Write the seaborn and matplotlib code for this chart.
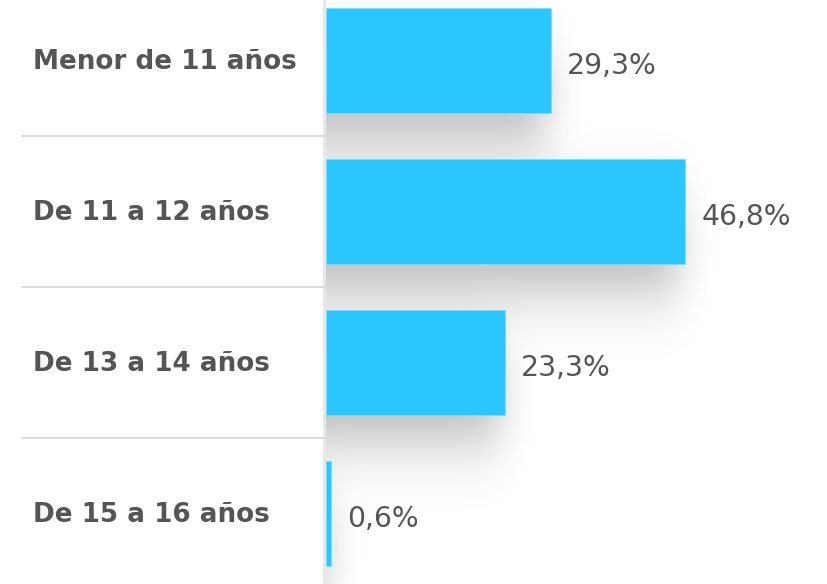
import numpy as np
import pandas as pd
import matplotlib.pyplot as plt
import matplotlib.transforms as mtransforms
from matplotlib.lines import Line2D
import seaborn as sns

## ============================================================= ##

categories = ['Menor de 11 años', 'De 11 a 12 años', 'De 13 a 14 años', 'De 15 a 16 años']
values = [29.3, 46.8, 23.3, 0.6]

BAR_COLOR = '#29c6ff'
TEXT_COLOR = '#555555'

## ============================================================= ##

sns.set_style('white')
plt.rcParams['font.family'] = ['DejaVu Sans']

df = pd.DataFrame({'category': categories, 'value': values})

fig = plt.figure(figsize=(8.28, 5.84), dpi=100)
ax = fig.add_axes([326/828, 0., 502/828, 1.])

bar_h = 0.69
xmax = 65.5
ylim = (3.467, -0.40)

## ---- soft drop shadow under the bars (blurred mask built from the data)
W, H = 502, 584
ux = W / xmax                      # pixels per x unit
uy = H / (ylim[0] - ylim[1])       # pixels per y unit
xpad = 12.
xs = np.linspace(-xpad, xmax, int(round((xmax + xpad) * ux)))
ys = np.linspace(ylim[1], ylim[0], H)
mask = np.zeros((len(ys), len(xs)))
for i, v in enumerate(values):
    top = i - bar_h/2 + 50/uy
    bot = i + bar_h/2 + 16/uy
    inside_y = (ys > top) & (ys < bot)
    inside_x = xs < v - 5/ux
    mask[np.ix_(inside_y, inside_x)] = 1.

def gauss(sigma):
    k = np.arange(-3*sigma, 3*sigma + 1)
    g = np.exp(-k**2 / (2.*sigma**2))
    return g / g.sum()

kx, ky = gauss(18), gauss(36)
m = np.apply_along_axis(lambda r: np.convolve(r, kx, mode='same'), 1, mask)
m = np.apply_along_axis(lambda c: np.convolve(c, ky, mode='same'), 0, m)
m = m[:, xs >= 0]
rgba = np.zeros(m.shape + (4,))
rgba[..., 3] = np.clip(m * 0.36, 0, 1)
ax.imshow(rgba, extent=(0, xmax, ylim[0], ylim[1]), origin='upper',
          aspect='auto', zorder=0, interpolation='bilinear')

## ---- bars
sns.barplot(data=df, x='value', y='category', orient='h', color=BAR_COLOR,
            saturation=1, width=bar_h, ax=ax, zorder=2, edgecolor='#7fdcff', linewidth=0.6)

ax.set_xlim(0, xmax)
ax.set_ylim(*ylim)
ax.set_xlabel('')
ax.set_ylabel('')
ax.set_xticks([])
ax.set_yticks([])
for s in ['top', 'right', 'bottom']:
    ax.spines[s].set_visible(False)
ax.spines['left'].set_color('#e8e8e8')
ax.spines['left'].set_linewidth(2.2)
ax.spines['left'].set_position(('outward', 1.2))
ax.spines['left'].set_zorder(1)

trans = mtransforms.blended_transform_factory(fig.transFigure, ax.transData)

for i, cat in enumerate(categories):
    ax.annotate(cat, xy=(33/828, i), xycoords=trans, xytext=(0, -6.3),
                textcoords='offset points', ha='left', va='baseline',
                fontsize=18.9, fontweight='bold', color=TEXT_COLOR,
                annotation_clip=False)

for i in range(len(categories) - 1):
    fig.add_artist(Line2D([22/828, 326/828], [i + 0.5, i + 0.5], transform=trans,
                          color='#d9d9d9', lw=1.3))

for i, v in enumerate(values):
    ax.annotate(f'{v:.1f}'.replace('.', ',') + '%', xy=(v, i), xytext=(12, -9.5),
                textcoords='offset points', ha='left', va='baseline',
                fontsize=20.3, color=TEXT_COLOR)

fig.savefig('out.png', dpi=100)
